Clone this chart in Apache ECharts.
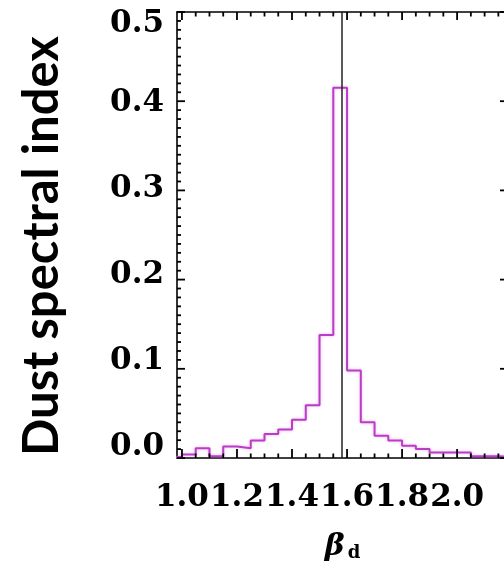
<!DOCTYPE html>
<html>
<head>
<meta charset="utf-8">
<script src="https://cdn.jsdelivr.net/npm/echarts@6/dist/echarts.min.js"></script>
<style>
html,body{margin:0;padding:0;background:#fff;}
#chart{width:504px;height:569px;}
</style>
</head>
<body>
<div id="chart"></div>
<script>
// ---- data ----
const binEdges = [0.95,1.00,1.05,1.10,1.15,1.20,1.25,1.30,1.35,1.40,1.45,1.50,1.55,1.60,1.65,1.70,1.75,1.80,1.85,1.90,1.95,2.00,2.05,2.10,2.15,2.20];
const binValues = [0.001,0.004,0.011,0.002,0.013,0.011,0.0195,0.027,0.032,0.043,0.059,0.138,0.415,0.098,0.040,0.025,0.0195,0.0138,0.010,0.0063,0.0063,0.0063,0.002,0.002,0.001];
const refLineX = 1.585;
const xTickLabels = ['1.0','1.2','1.4','1.6','1.8','2.0','2.2'];
const yTickLabels = ['0.0','0.1','0.2','0.3','0.4','0.5'];
const xMinorPerMajor = 4;
const yMinorPerMajor = 10;
const xTitle = 'β';
const xTitleSub = 'd';
const yTitle = 'Dust spectral index';

// ---- layout / option ----
const X_MIN = 0.982, X_MAX = 2.185, Y_MIN = 0, Y_MAX = 0.5;
const X_TICK_MIN = Number(xTickLabels[0]), X_TICK_MAX = Number(xTickLabels[xTickLabels.length - 1]);
const X_STEP = Number(xTickLabels[1]) - Number(xTickLabels[0]);
const Y_STEP = Number(yTickLabels[1]) - Number(yTickLabels[0]);
const PLOT_L = 177, PLOT_T = 12, PLOT_W = 331, PLOT_H = 446;
const pxPerX = PLOT_W / (X_MAX - X_MIN);
const tickGridLeft = PLOT_L + (X_TICK_MIN - X_MIN) * pxPerX;
const tickGridWidth = (X_TICK_MAX - X_TICK_MIN) * pxPerX;

const black = '#000';
const labelFont = {fontFamily: 'DejaVu Serif', fontWeight: 'bold', fontSize: 31, color: black};
const frameLine = () => ({show: true, onZero: false, lineStyle: {color: black, width: 1.6}});
const off = () => ({show: false});

// tick list: [value, side (0 bottom, 1 top, 2 left, 3 right), length px]
const SIDE_LEN = {0: [9, 4.5], 1: [8, 4.5], 2: [8, 4], 3: [8, 4]};
const tickData = [];
for (let i = 0; i < xTickLabels.length; i++) {
  for (let j = 0; j < xMinorPerMajor; j++) {
    const v = X_TICK_MIN + (i * xMinorPerMajor + j) * X_STEP / xMinorPerMajor;
    if (v < X_MIN || v > X_MAX) continue;
    [0, 1].forEach(s => tickData.push([+v.toFixed(4), s, SIDE_LEN[s][j === 0 ? 0 : 1]]));
  }
}
for (let i = 0; i < yTickLabels.length; i++) {
  for (let j = 0; j < yMinorPerMajor; j++) {
    const v = Number(yTickLabels[0]) + (i * yMinorPerMajor + j) * Y_STEP / yMinorPerMajor;
    if (v < Y_MIN - 1e-9 || v > Y_MAX + 1e-9) continue;
    [2, 3].forEach(s => tickData.push([+v.toFixed(4), s, SIDE_LEN[s][j === 0 ? 0 : 1]]));
  }
}

function renderTick(params, api) {
  const v = api.value(0), side = api.value(1), len = api.value(2);
  let shape;
  if (side === 0) { const p = api.coord([v, Y_MIN]); shape = {x1: p[0], y1: p[1], x2: p[0], y2: p[1] - len}; }
  else if (side === 1) { const p = api.coord([v, Y_MAX]); shape = {x1: p[0], y1: p[1], x2: p[0], y2: p[1] + len}; }
  else if (side === 2) { const p = api.coord([X_MIN, v]); shape = {x1: p[0], y1: p[1], x2: p[0] + len, y2: p[1]}; }
  else { const p = api.coord([X_MAX, v]); shape = {x1: p[0], y1: p[1], x2: p[0] - len, y2: p[1]}; }
  return {type: 'line', shape: shape, style: {stroke: black, lineWidth: 1.8}};
}

const histData = binEdges.map((e, i) => [e, i < binValues.length ? binValues[i] : binValues[binValues.length - 1]]);

const option = {
  animation: false,
  backgroundColor: '#fff',
  grid: [
    {left: PLOT_L, top: PLOT_T, width: PLOT_W, height: PLOT_H, containLabel: false, outerBoundsMode: 'none'},
    {left: PLOT_L, top: 17, width: PLOT_W, height: 430, containLabel: false, outerBoundsMode: 'none'},
    {left: tickGridLeft, top: PLOT_T, width: tickGridWidth, height: PLOT_H, containLabel: false, outerBoundsMode: 'none'}
  ],
  xAxis: [
    {type: 'value', gridIndex: 0, position: 'bottom', min: X_MIN, max: X_MAX,
      axisLine: frameLine(), axisTick: off(), axisLabel: off(), splitLine: off(),
      name: '{b|' + xTitle + '}{s|' + xTitleSub + '}',
      nameLocation: 'middle', nameGap: 74,
      nameTextStyle: {rich: {
        b: {fontFamily: 'DejaVu Serif', fontWeight: 'bold', fontStyle: 'italic', fontSize: 30, color: black, verticalAlign: 'bottom'},
        s: {fontFamily: 'DejaVu Serif', fontWeight: 'bold', fontSize: 18, color: black, verticalAlign: 'bottom', padding: [0, 0, 0, 3]}
      }}
    },
    {type: 'value', gridIndex: 0, position: 'top', min: X_MIN, max: X_MAX,
      axisLine: frameLine(), axisTick: off(), axisLabel: off(), splitLine: off()},
    {type: 'value', gridIndex: 1, min: X_MIN, max: X_MAX, show: false},
    {type: 'value', gridIndex: 2, position: 'bottom', min: X_TICK_MIN, max: X_TICK_MAX, interval: X_STEP,
      axisLine: {show: false, onZero: false}, axisTick: off(), splitLine: off(),
      axisLabel: Object.assign({show: true, margin: 24,
        formatter: v => {
          const i = Math.round((v - X_TICK_MIN) / X_STEP);
          return i === xTickLabels.length - 1 ? '' : xTickLabels[i];
        }}, labelFont)}
  ],
  yAxis: [
    {type: 'value', gridIndex: 0, position: 'left', min: Y_MIN, max: Y_MAX,
      axisLine: frameLine(), axisTick: off(), axisLabel: off(), splitLine: off()},
    {type: 'value', gridIndex: 0, position: 'right', min: Y_MIN, max: Y_MAX,
      axisLine: frameLine(), axisTick: off(), axisLabel: off(), splitLine: off()},
    {type: 'value', gridIndex: 1, position: 'left', min: Y_MIN, max: Y_MAX, interval: Y_STEP,
      axisLine: {show: false, onZero: false}, axisTick: off(), splitLine: off(),
      axisLabel: Object.assign({show: true, margin: 13,
        formatter: v => {
          const i = Math.round((v - Y_MIN) / Y_STEP);
          return i === yTickLabels.length - 1 ? '{t|' + yTickLabels[i] + '}' : yTickLabels[i];
        },
        rich: {t: Object.assign({padding: [14, 0, 0, 0]}, labelFont)}
      }, labelFont),
      name: yTitle, nameLocation: 'middle', nameRotate: 90, nameGap: 110,
      nameTextStyle: {fontFamily: 'Lato', fontWeight: 'bold', fontSize: 49, color: black, padding: [0, 28, 0, 0]}
    },
    {type: 'value', gridIndex: 2, min: Y_MIN, max: Y_MAX, show: false}
  ],
  series: [
    {
      type: 'line',
      xAxisIndex: 0, yAxisIndex: 0,
      step: 'end',
      data: histData,
      symbol: 'none',
      lineStyle: {color: '#bb3cc6', width: 2, shadowColor: 'rgba(210,90,225,0.45)', shadowBlur: 3},
      markLine: {
        silent: true, symbol: 'none', label: {show: false},
        lineStyle: {color: '#222', width: 1.5, type: 'solid'},
        data: [{xAxis: refLineX}]
      }
    },
    {
      type: 'custom', name: 'ticks',
      xAxisIndex: 0, yAxisIndex: 0,
      clip: false, silent: true, z: 10,
      encode: {x: 0, y: 1},
      renderItem: renderTick,
      data: tickData
    }
  ]
};

const chart = echarts.init(document.getElementById('chart'), null, {renderer: 'canvas'});
chart.setOption(option);
</script>
</body>
</html>
